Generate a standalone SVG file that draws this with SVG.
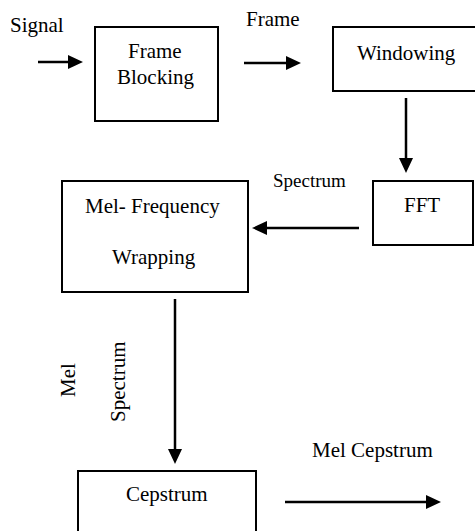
<svg xmlns="http://www.w3.org/2000/svg" width="475" height="531" viewBox="0 0 475 531" font-family="'Liberation Serif', 'Times New Roman', serif">
<style>
.box{fill:#fff;stroke:#000;stroke-width:2}
.t{font-size:21px;fill:#000}
.s{font-size:19px;fill:#000}
.c{stroke:#000;stroke-width:2.5;fill:none;marker-end:url(#ah)}
</style>
<defs>
<marker id="ah" markerUnits="userSpaceOnUse" markerWidth="15" markerHeight="14" refX="11" refY="7" orient="auto">
<path d="M0,0 L15,7 L0,14 Z" fill="#000"/>
</marker>
</defs>
<rect width="475" height="531" fill="#fff"/>
<g id="connectors">
<line class="c" x1="38" y1="62" x2="79" y2="62"/>
<line class="c" x1="244" y1="63" x2="297" y2="63"/>
<line class="c" x1="406" y1="98" x2="406" y2="169"/>
<line class="c" x1="359" y1="228" x2="256" y2="228"/>
<line class="c" x1="175" y1="299" x2="175" y2="460"/>
<line class="c" x1="285" y1="502" x2="437" y2="502"/>
</g>
<g id="labels">
<text class="t" x="10" y="32">Signal</text>
<text class="t" x="246" y="26">Frame</text>
<text class="s" x="273" y="187">Spectrum</text>
<text class="t" transform="translate(75,397) rotate(-90)">Mel</text>
<text class="t" transform="translate(125,422) rotate(-90)">Spectrum</text>
<text class="t" x="312" y="457">Mel Cepstrum</text>
</g>
<g id="frame-blocking">
<rect class="box" x="95" y="27" width="123" height="94"/>
<text class="t" x="128" y="58">Frame</text>
<text class="t" x="117" y="84">Blocking</text>
</g>
<g id="windowing">
<rect class="box" x="333" y="27" width="150" height="64"/>
<text class="t" x="357" y="60">Windowing</text>
</g>
<g id="fft">
<rect class="box" x="373" y="181" width="100" height="64"/>
<text class="t" x="404" y="212">FFT</text>
</g>
<g id="mel-frequency-wrapping">
<rect class="box" x="62" y="181" width="186" height="111"/>
<text class="t" x="85" y="213">Mel- Frequency</text>
<text class="t" x="112" y="264">Wrapping</text>
</g>
<g id="cepstrum">
<rect class="box" x="78" y="471" width="178" height="70"/>
<text class="t" x="126" y="501">Cepstrum</text>
</g>
</svg>
